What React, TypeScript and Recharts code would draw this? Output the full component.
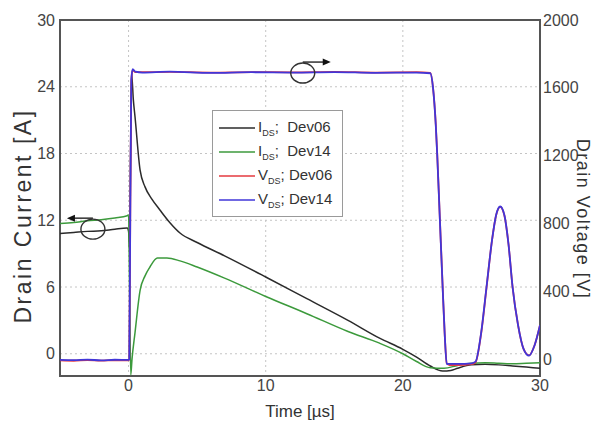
import {
  LineChart,
  Line,
  XAxis,
  YAxis,
  CartesianGrid,
  ReferenceArea,
  ReferenceDot,
  Legend,
} from "recharts";

// axis ticks
const timeTicks = [0, 10, 20, 30];
const currentTicks = [0, 6, 12, 18, 24, 30];
const voltageTicks = [0, 400, 800, 1200, 1600, 2000];

// I_DS, Dev06 (black)
const idsTime06 = [-5, -4, -3, -2, -1, -0.1, 0, 0.08, 0.15, 0.22, 0.35, 0.47, 0.84, 1.2, 1.7, 2.3, 3, 3.75, 5, 7, 10, 13, 16, 18.3, 20, 21, 22, 22.9, 23.5, 24, 25, 26, 27, 28, 29, 30];
const idsDev06 = [10.8, 10.9, 11.0, 11.05, 11.2, 11.3, 11.0, 9.3, 18, 25.2, 22.8, 21.3, 16.5, 15.0, 13.9, 12.9, 11.8, 10.85, 10.0, 8.8, 6.9, 4.95, 3.0, 1.4, 0.4, -0.3, -1.1, -1.55, -1.5, -1.3, -1.0, -0.95, -1.0, -1.1, -1.2, -1.3];

// I_DS, Dev14 (green)
const idsTime14 = [-5, -4, -3, -2, -1, -0.1, 0, 0.08, 0.16, 0.25, 0.47, 0.84, 1.2, 1.56, 2.1, 2.8, 3.75, 5, 7, 10, 13, 16, 18.3, 20, 21, 22, 23, 24, 25, 26, 27, 28, 29, 30];
const idsDev14 = [11.7, 11.8, 11.95, 12.05, 12.2, 12.4, 12.5, 5, -1.9, -0.5, 1.9, 5.7, 7.0, 7.8, 8.6, 8.6, 8.35, 7.8, 6.8, 5.15, 3.6, 2.0, 0.95, 0.0, -0.7, -1.25, -1.3, -1.05, -0.85, -0.8, -0.85, -0.9, -0.85, -0.8];

// V_DS time base (shared by both devices)
const vdsTime = [-5, -4, -3, -2, -1, 0, 0.05, 0.12, 0.2, 0.3, 0.5, 1, 3, 6, 9, 12, 15, 18, 21, 22, 22.2, 22.4, 22.5, 22.7, 22.9, 23.05, 23.2, 23.4, 24, 25, 25.3, 25.7, 26.1, 26.5, 26.8, 27.1, 27.4, 27.7, 28, 28.4, 28.8, 29.2, 29.6, 30];
const vdsDev06 = [-8, -10, -6, -9, -7, -8, 0, 790, 1640, 1705, 1692, 1692, 1694, 1690, 1693, 1691, 1694, 1690, 1692, 1688, 1600, 1385, 1220, 825, 430, 150, -25, -35, -35, -30, -20, 145, 420, 700, 848, 898, 848, 680, 425, 200, 60, 22, 80, 200];
const vdsDev14 = [-5, -6, -3, -8, -4, -5, 0, 800, 1650, 1710, 1695, 1690, 1695, 1688, 1692, 1690, 1693, 1688, 1690, 1686, 1600, 1380, 1215, 820, 425, 150, -30, -28, -28, -25, -15, 150, 425, 700, 850, 900, 850, 680, 425, 200, 60, 20, 80, 200];

const toPoints = (ts: number[], vs: number[]) => ts.map((t, i) => ({ t, v: vs[i] }));

const legendRows = [
  { sym: "I", name: "Dev06", color: "#2b2b2b" },
  { sym: "I", name: "Dev14", color: "#3c9a3c" },
  { sym: "V", name: "Dev06", color: "#e53a3f" },
  { sym: "V", name: "Dev14", color: "#4136d9" },
];

const font = "'Liberation Sans', Arial, sans-serif";

function LegendBox() {
  return (
    <div
      style={{
        border: "1px solid #9a9a9a",
        background: "#fff",
        padding: "5px 6px 4px 6px",
        fontFamily: font,
        fontSize: 15,
        color: "#333",
      }}
    >
      {legendRows.map((r) => (
        <div key={r.sym + r.name} style={{ display: "flex", alignItems: "center", height: 24 }}>
          <svg width={36} height={10}>
            <line x1={0} y1={5} x2={36} y2={5} stroke={r.color} strokeWidth={1.5} />
          </svg>
          <span style={{ marginLeft: 3 }}>
            {r.sym}
            <sub style={{ fontSize: 9 }}>DS</sub>;{r.sym === "I" ? "\u00a0\u00a0" : "\u00a0"}{r.name}
          </span>
        </div>
      ))}
    </div>
  );
}

// circle + arrow marking which axis a trace pair belongs to
function AxisMarker(props: any) {
  const { cx, cy, dir } = props;
  const ay = cy - 11;
  const tip = dir < 0 ? cx - 26 : cx + 28;
  return (
    <g>
      <ellipse cx={cx} cy={cy} rx={12} ry={10} fill="none" stroke="#333" strokeWidth={1.4} />
      <line x1={cx} y1={ay} x2={tip - dir * 6} y2={ay} stroke="#222" strokeWidth={1.4} />
      <path d={`M${tip},${ay} L${tip - dir * 8},${ay - 3.5} L${tip - dir * 8},${ay + 3.5} Z`} fill="#111" />
    </g>
  );
}

export default function App() {
  return (
    <div style={{ position: "absolute", left: 0, top: 0, width: 607, height: 424, background: "#fff" }}>
      <LineChart width={607} height={424} margin={{ top: 20, right: 0, bottom: 0, left: 0 }}>
        <CartesianGrid yAxisId="left" stroke="#c4c4c4" strokeDasharray="2 3" />
        <XAxis
          dataKey="t"
          type="number"
          domain={[-5, 30]}
          ticks={timeTicks}
          allowDataOverflow
          height={48}
          axisLine={false}
          tickLine={false}
          tickSize={0}
          tickMargin={4}
          tick={{ fill: "#444", fontSize: 16, fontFamily: font }}
          label={{ value: "Time [\u00b5s]", position: "insideBottom", offset: 7, fill: "#333", fontSize: 17, fontFamily: font }}
        />
        <YAxis
          yAxisId="left"
          type="number"
          domain={[-2, 30]}
          ticks={currentTicks}
          allowDataOverflow
          width={60}
          axisLine={false}
          tickLine={false}
          tickSize={0}
          tickMargin={5}
          tick={{ fill: "#444", fontSize: 16, fontFamily: font }}
          label={{ value: "Drain Current [A]", angle: -90, position: "center", dx: -7, dy: 18, fill: "#333", fontSize: 23, letterSpacing: 2.5, fontFamily: font }}
        />
        <YAxis
          yAxisId="right"
          orientation="right"
          type="number"
          domain={[-100, 2000]}
          ticks={voltageTicks}
          allowDataOverflow
          width={67}
          axisLine={false}
          tickLine={false}
          tickSize={0}
          tickMargin={3}
          tick={{ fill: "#444", fontSize: 16, fontFamily: font }}
          label={{ value: "Drain Voltage [V]", angle: 90, position: "center", dx: 10, dy: 21, fill: "#333", fontSize: 18, letterSpacing: 1.5, fontFamily: font }}
        />
        <Line yAxisId="left" data={toPoints(idsTime06, idsDev06)} dataKey="v" name="IDS; Dev06" type="monotone" stroke="#2b2b2b" strokeWidth={1.5} dot={false} isAnimationActive={false} />
        <Line yAxisId="left" data={toPoints(idsTime14, idsDev14)} dataKey="v" name="IDS; Dev14" type="monotone" stroke="#3c9a3c" strokeWidth={1.5} dot={false} isAnimationActive={false} />
        <Line yAxisId="right" data={toPoints(vdsTime, vdsDev06)} dataKey="v" name="VDS; Dev06" type="monotone" stroke="#e53a3f" strokeWidth={1.8} dot={false} isAnimationActive={false} />
        <Line yAxisId="right" data={toPoints(vdsTime, vdsDev14)} dataKey="v" name="VDS; Dev14" type="monotone" stroke="#4136d9" strokeWidth={1.8} dot={false} isAnimationActive={false} />
        <ReferenceArea yAxisId="left" x1={-5} x2={30} y1={-2} y2={30} fill="none" stroke="#555" strokeWidth={2} />
        <ReferenceDot yAxisId="left" x={-2.6} y={11.2} shape={(p: any) => <AxisMarker {...p} dir={-1} />} />
        <ReferenceDot yAxisId="right" x={12.7} y={1687} shape={(p: any) => <AxisMarker {...p} dir={1} />} />
        <Legend
          layout="vertical"
          align="center"
          verticalAlign="middle"
          content={() => <LegendBox />}
          wrapperStyle={{ left: 212, top: 110, width: 131, height: 107 }}
        />
      </LineChart>
    </div>
  );
}
